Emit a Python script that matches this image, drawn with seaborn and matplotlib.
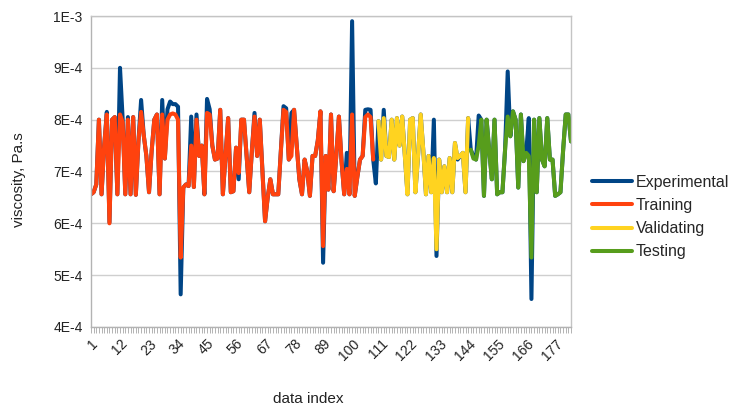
import numpy as np
import pandas as pd
import matplotlib
matplotlib.use("Agg")
import matplotlib.pyplot as plt
from matplotlib.ticker import FixedLocator, MultipleLocator, FuncFormatter
import seaborn as sns

# viscosity values in units of 1E-4 Pa.s
experimental = [
    6.56, 6.60, 6.75, 8.00, 6.56, 7.50, 8.15, 6.02, 8.00, 8.05,
    6.56, 9.00, 8.02, 6.56, 8.05, 6.56, 8.05, 6.55, 7.60, 8.38,
    7.70, 7.30, 6.60, 7.40, 8.00, 8.10, 6.56, 8.38, 7.25, 8.20,
    8.35, 8.30, 8.30, 8.25, 4.63, 6.69, 6.75, 6.72, 8.06, 6.70,
    8.10, 7.30, 7.50, 6.56, 8.40, 8.20, 7.50, 7.23, 7.25, 8.19,
    6.56, 7.30, 8.03, 6.60, 6.62, 7.46, 6.85, 8.00, 8.00, 7.30,
    6.60, 7.40, 8.13, 7.30, 8.00, 7.00, 6.04, 6.50, 6.85, 6.56,
    6.56, 6.56, 7.40, 8.26, 8.22, 7.23, 8.13, 8.19, 7.50, 6.85,
    6.56, 7.23, 7.00, 6.53, 7.30, 7.30, 7.60, 8.16, 5.24, 7.30,
    6.65, 8.10, 6.62, 7.30, 8.06, 7.20, 6.56, 7.36, 6.56, 9.90,
    6.53, 6.90, 7.23, 7.30, 8.19, 8.20, 8.19, 7.23, 6.77, 7.97,
    7.23, 8.19, 7.30, 7.28, 8.00, 7.23, 8.03, 7.50, 8.06, 7.30,
    6.56, 8.00, 8.03, 6.60, 7.30, 8.10, 7.40, 6.56, 7.30, 6.60,
    8.00, 5.37, 7.23, 6.60, 7.10, 6.60, 7.26, 6.60, 7.55, 7.23,
    7.30, 7.36, 6.60, 8.03, 7.42, 7.30, 7.23, 8.08, 8.00, 6.53,
    8.00, 7.40, 6.85, 8.00, 6.56, 6.60, 6.60, 7.42, 8.93, 7.68,
    8.16, 8.00, 6.69, 8.10, 7.20, 7.36, 8.03, 4.54, 8.00, 6.60,
    8.03, 7.23, 7.10, 8.03, 7.23, 7.23, 6.53, 6.56, 6.60, 7.40,
    8.10, 8.10, 7.58,
]

# data index 1..108
training = [
    6.56, 6.60, 6.75, 8.00, 6.56, 7.50, 8.10, 6.00, 8.00, 8.05,
    6.56, 8.10, 7.95, 6.56, 8.00, 6.56, 8.05, 6.55, 7.60, 8.15,
    7.70, 7.30, 6.60, 7.40, 8.00, 8.10, 6.56, 8.10, 7.25, 8.00,
    8.10, 8.12, 8.10, 8.00, 5.34, 6.69, 6.75, 6.72, 7.50, 6.70,
    8.00, 7.30, 7.50, 6.56, 8.13, 8.10, 7.50, 7.23, 7.25, 8.19,
    6.56, 7.30, 8.03, 6.60, 6.62, 7.46, 6.97, 8.00, 8.00, 7.30,
    6.60, 7.40, 8.06, 7.30, 8.00, 7.00, 6.04, 6.50, 6.85, 6.56,
    6.56, 6.56, 7.40, 8.19, 8.15, 7.23, 7.30, 8.19, 7.50, 6.85,
    6.56, 7.23, 7.00, 6.53, 7.30, 7.30, 7.60, 8.16, 5.56, 7.30,
    6.65, 8.10, 6.62, 7.30, 8.06, 7.20, 6.56, 7.05, 6.56, 8.10,
    6.53, 6.90, 7.23, 7.30, 8.05, 8.10, 8.05, 7.23,
]
training_start = 1

# data index 110..144
validating = [
    7.97, 7.23, 8.03, 7.30, 7.28, 8.00, 7.23, 8.03, 7.50, 8.06,
    7.30, 6.56, 8.00, 8.03, 6.60, 7.30, 8.10, 7.40, 6.56, 7.30,
    6.60, 7.26, 5.50, 7.23, 6.60, 7.10, 6.60, 7.26, 6.60, 7.55,
    7.26, 7.30, 7.36, 6.60, 8.03,
]
validating_start = 110

# data index 145..183
testing = [
    7.42, 7.25, 7.23, 7.50, 8.00, 6.53, 8.00, 7.40, 6.85, 8.00,
    6.56, 6.60, 6.60, 7.42, 8.06, 7.68, 8.16, 8.00, 6.69, 8.10,
    7.20, 7.36, 7.30, 5.34, 8.00, 6.60, 8.03, 7.23, 7.10, 8.03,
    7.23, 7.23, 6.53, 6.56, 6.60, 7.40, 8.10, 8.10, 7.58,
]
testing_start = 145

tick_labels = [1, 12, 23, 34, 45, 56, 67, 78, 89, 100, 111, 122, 133, 144, 155, 166, 177]

scale = 1e-4
n = len(experimental)
idx = np.arange(1, n + 1)

sns.set_theme(style="white")
plt.rcParams["font.family"] = ["Liberation Sans", "DejaVu Sans"]
plt.rcParams["lines.solid_joinstyle"] = "round"
plt.rcParams["lines.solid_capstyle"] = "round"

fig = plt.figure(figsize=(7.31, 4.08), dpi=100)
ax = fig.add_axes([91 / 731, 1 - 327 / 408, 480 / 731, 311 / 408])

lw = 2.9
series = [
    ("Experimental", experimental, 1, "#004586"),
    ("Training", training, training_start, "#ff420e"),
    ("Validating", validating, validating_start, "#ffd320"),
    ("Testing", testing, testing_start, "#579d1c"),
]
for name, vals, start, col in series:
    x = np.arange(start, start + len(vals))
    sns.lineplot(x=x, y=np.array(vals) * scale, color=col, linewidth=lw,
                 label=name, ax=ax)

ax.set_xlim(1, n)
ax.set_ylim(4e-4, 1e-3)

ax.yaxis.set_major_locator(MultipleLocator(1e-4))
ax.yaxis.set_major_formatter(FuncFormatter(lambda v, p: f"{v:.0E}".replace("E-0", "E-")))
ax.grid(axis="y", color="#cfcfcf", linewidth=1)
ax.set_axisbelow(True)

ax.xaxis.set_major_locator(FixedLocator(tick_labels))
ax.xaxis.set_minor_locator(FixedLocator(idx))
ax.set_xticklabels([str(t) for t in tick_labels], rotation=45, ha="right",
                   rotation_mode="anchor")
ax.tick_params(axis="x", which="both", direction="out", length=4, width=0.7,
               color="#b3b3b3", bottom=True, labelsize=10, labelcolor="#222222", pad=3)
ax.tick_params(axis="y", length=0, labelsize=10, labelcolor="#222222", pad=6)

for s in ax.spines.values():
    s.set_color("#c4c4c4")
    s.set_linewidth(1)
ax.spines["left"].set_color("#b3b3b3")
ax.spines["bottom"].set_color("#b3b3b3")

ax.set_xlabel("data index", fontsize=11, color="#222222")
ax.set_ylabel("viscosity, Pa.s", fontsize=11, color="#222222")
ax.xaxis.set_label_coords((308 - 91) / 480, (327 - 392) / 311)
ax.yaxis.set_label_coords((26 - 91) / 480, (327 - 180) / 311)

handles, labels = ax.get_legend_handles_labels()
ax.get_legend().remove()
fig.legend(handles, labels, loc="center left", bbox_to_anchor=(592 / 731, 1 - 217 / 408),
           frameon=False, fontsize=11.5, handlelength=2.5, handletextpad=0.25,
           labelspacing=0.52, borderpad=0, borderaxespad=0)

fig.savefig("out.png", dpi=100)
